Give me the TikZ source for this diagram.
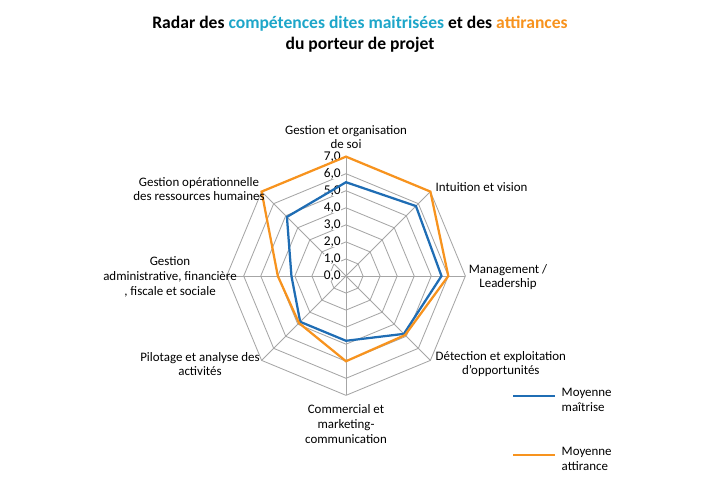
\documentclass[tikz,border=0pt]{standalone}
\usepackage{fontspec}
\setmainfont{Carlito}
\usepackage{tikz}
\usetikzlibrary{calc}
\definecolor{maitrise}{HTML}{1F6DB4}
\definecolor{attirance}{HTML}{F7931E}
\definecolor{titcyan}{HTML}{1DA6C9}
\definecolor{grille}{HTML}{A6A6A6}
\tikzset{
  axe/.style={font=\fontsize{9.2}{10.5}\selectfont, align=center, inner sep=1pt},
  courbe/.style={line width=1.6pt, line join=miter},
}
\begin{document}
\begin{tikzpicture}[x=0.025cm,y=0.025cm]
                \useasboundingbox (0,0) rectangle (720,492);
                % Centre of the radar (unit = 17.05 px)
                \coordinate (C) at (346,216);
                \def\u{17.05}
                
                % Grid
                \foreach \r in {1,...,7}
                  \draw[grille, line width=0.6pt] ($(C)+(90:\r*\u)$) \foreach \a in {45,0,...,-225} { -- ($(C)+(\a:\r*\u)$) } -- cycle;
                \foreach \a in {90,45,...,-225}
                  \draw[grille, line width=0.6pt] (C) -- ($(C)+(\a:7*\u)$);
                
                % Scale
                \foreach \r in {0,...,7}
                  \node[anchor=east, font=\fontsize{9.5}{10}\selectfont, inner sep=0pt, fill=white] at ($(C)+(-5,\r*\u)$) {\r,0};
                
                % Moyenne maitrise (blue)
                \draw[courbe, maitrise] ($(C)+(90:5.5*\u)$) -- ($(C)+(45:5.8*\u)$) -- ($(C)+(0:5.6*\u)$)
                  -- ($(C)+(-45:4.8*\u)$) -- ($(C)+(-90:3.8*\u)$) -- ($(C)+(-135:3.8*\u)$)
                  -- ($(C)+(180:3.2*\u)$) -- ($(C)+(135:4.9*\u)$) -- cycle;
                
                % Moyenne attirance (orange)
                \draw[courbe, attirance] ($(C)+(90:7*\u)$) -- ($(C)+(45:7*\u)$) -- ($(C)+(0:6*\u)$)
                  -- ($(C)+(-45:4.9*\u)$) -- ($(C)+(-90:5*\u)$) -- ($(C)+(-135:3.9*\u)$)
                  -- ($(C)+(180:4*\u)$) -- ($(C)+(135:7*\u)$) -- cycle;
                
                % Axis labels
                \node[axe] (soi) at (346,355) {Gestion et organisation\\de soi};
                \node[axe, anchor=west] (intuition) at (434,305) {Intuition et vision};
                \node[axe] (management) at (508,215) {Management /\\Leadership};
                \node[axe, anchor=west] (detection) at (434,128) {Détection et exploitation\\d'opportunités};
                \node[axe] (commercial) at (346,68) {Commercial et\\marketing-\\communication};
                \node[axe] (pilotage) at (200,128) {Pilotage et analyse des\\activités};
                \node[axe] (administrative) at (170,215) {Gestion\\administrative, financière\\, fiscale et sociale};
                \node[axe] (rh) at (199,303) {Gestion opérationnelle\\des ressources humaines};
                
                % Legend
                \draw[line width=1.6pt, maitrise] (513,96) -- (555,96);
                \node[axe, align=left, anchor=west] (lmaitrise) at (560,92) {Moyenne\\maîtrise};
                \draw[line width=1.6pt, attirance] (513,37) -- (555,37);
                \node[axe, align=left, anchor=west] (lattirance) at (560,33) {Moyenne\\attirance};
                
                % Title
                \node[font=\bfseries\fontsize{12.5}{15}\selectfont, align=center] (titre) at (360,458)
                  {Radar des \textcolor{titcyan}{compétences dites maitrisées} et des \textcolor{attirance}{attirances}\\du porteur de projet};
\end{tikzpicture}
\end{document}
